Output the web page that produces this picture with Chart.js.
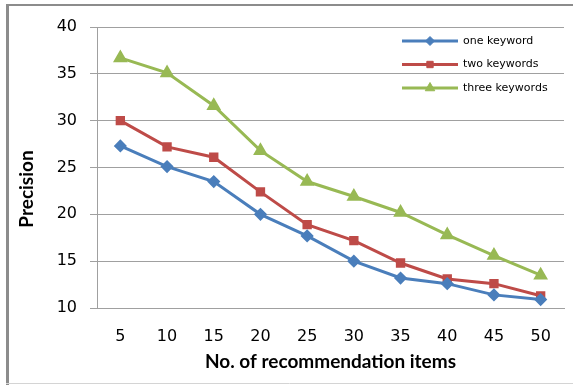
<!DOCTYPE html>
<html>
<head>
<meta charset="utf-8">
<script src="https://cdn.jsdelivr.net/npm/chart.js@4/dist/chart.umd.min.js"></script>
<style>
html,body{margin:0;padding:0;background:#fff;}
#wrap{width:573px;height:385px;position:relative;}
</style>
</head>
<body>
<div id="wrap"><canvas id="precisionChart" width="573" height="385"></canvas></div>
<script>
const itemCounts = [5, 10, 15, 20, 25, 30, 35, 40, 45, 50];
const oneKeyword = [27.3, 25.1, 23.5, 20.0, 17.7, 15.0, 13.2, 12.6, 11.4, 10.9];
const twoKeywords = [30.0, 27.2, 26.1, 22.4, 18.9, 17.2, 14.8, 13.1, 12.6, 11.3];
const threeKeywords = [36.7, 35.1, 31.6, 26.8, 23.5, 21.9, 20.2, 17.8, 15.6, 13.5];
const seriesNames = ["one keyword", "two keywords", "three keywords"];
const yTicks = [10, 15, 20, 25, 30, 35, 40];
const yTitle = "Precision";

const gridColor = "#a0a0a0";

// frame, y title (sits a little below the plot middle) and the line+marker legend
const framePlugin = {
  id: "frame",
  afterDraw(chart) {
    const ctx = chart.ctx;
    ctx.save();
    ctx.strokeStyle = "#8c8c8c";
    ctx.lineWidth = 2;
    ctx.beginPath();
    ctx.moveTo(6, 5);
    ctx.lineTo(573, 5);
    ctx.stroke();
    ctx.lineWidth = 3;
    ctx.beginPath();
    ctx.moveTo(7.5, 4);
    ctx.lineTo(7.5, 385);
    ctx.stroke();
    ctx.strokeStyle = "#d4d4d4";
    ctx.lineWidth = 1;
    ctx.beginPath();
    ctx.moveTo(6, 383.5);
    ctx.lineTo(573, 383.5);
    ctx.stroke();

    ctx.save();
    ctx.translate(27, 189);
    ctx.rotate(-Math.PI / 2);
    ctx.fillStyle = "#000";
    ctx.font = "bold 19px Lato";
    ctx.textAlign = "center";
    ctx.textBaseline = "middle";
    ctx.fillText(yTitle, 0, 0);
    ctx.restore();

    chart.data.datasets.forEach((ds, i) => {
      const y = 41 + i * 23.5;
      ctx.strokeStyle = ds.borderColor;
      ctx.lineWidth = 3;
      ctx.beginPath();
      ctx.moveTo(402, y);
      ctx.lineTo(458, y);
      ctx.stroke();
      ctx.fillStyle = ds.backgroundColor;
      ctx.strokeStyle = ds.borderColor;
      ctx.lineWidth = 1;
      Chart.helpers.drawPoint(ctx, {pointStyle: ds.pointStyle, radius: ds.pointRadius, rotation: 0, borderWidth: 1}, 430, y);
      ctx.fillStyle = "#000";
      ctx.font = "11px 'DejaVu Sans'";
      ctx.textBaseline = "middle";
      ctx.textAlign = "left";
      ctx.fillText(ds.label, 463, y);
    });
    ctx.restore();
  }
};

new Chart(document.getElementById("precisionChart"), {
  type: "line",
  data: {
    labels: itemCounts,
    datasets: [
      {
        label: seriesNames[0],
        data: oneKeyword,
        borderColor: "#4a7ebb",
        backgroundColor: "#4a7ebb",
        borderWidth: 3,
        pointStyle: "rectRot",
        pointRadius: 4.5,
        tension: 0
      },
      {
        label: seriesNames[1],
        data: twoKeywords,
        borderColor: "#be4b48",
        backgroundColor: "#be4b48",
        borderWidth: 3,
        pointStyle: "rect",
        pointRadius: 4.5,
        tension: 0
      },
      {
        label: seriesNames[2],
        data: threeKeywords,
        borderColor: "#98b954",
        backgroundColor: "#98b954",
        borderWidth: 3,
        pointStyle: "triangle",
        pointRadius: 5.5,
        tension: 0
      }
    ]
  },
  options: {
    responsive: false,
    animation: false,
    layout: {padding: {left: 8, top: 27, right: 9, bottom: 2}},
    plugins: {legend: {display: false}, tooltip: {enabled: false}},
    scales: {
      x: {
        offset: true,
        grid: {display: false, drawTicks: false},
        border: {color: gridColor, width: 1},
        ticks: {color: "#000", padding: 19, font: {family: "DejaVu Sans", size: 16}},
        title: {
          display: true,
          text: "No. of recommendation items",
          color: "#000",
          font: {family: "Lato", size: 19, weight: "bold"},
          padding: {top: 0, bottom: 10}
        },
        afterFit(scale) { scale.height = 75; }
      },
      y: {
        min: 10,
        max: 40,
        afterBuildTicks(scale) { scale.ticks = yTicks.map(v => ({value: v})); },
        grid: {color: gridColor, lineWidth: 1, tickLength: 7},
        border: {color: gridColor, width: 1},
        ticks: {color: "#000", padding: 13, font: {family: "DejaVu Sans", size: 16}},
        afterFit(scale) { scale.width = 89; }
      }
    }
  },
  plugins: [framePlugin]
});
</script>
</body>
</html>
